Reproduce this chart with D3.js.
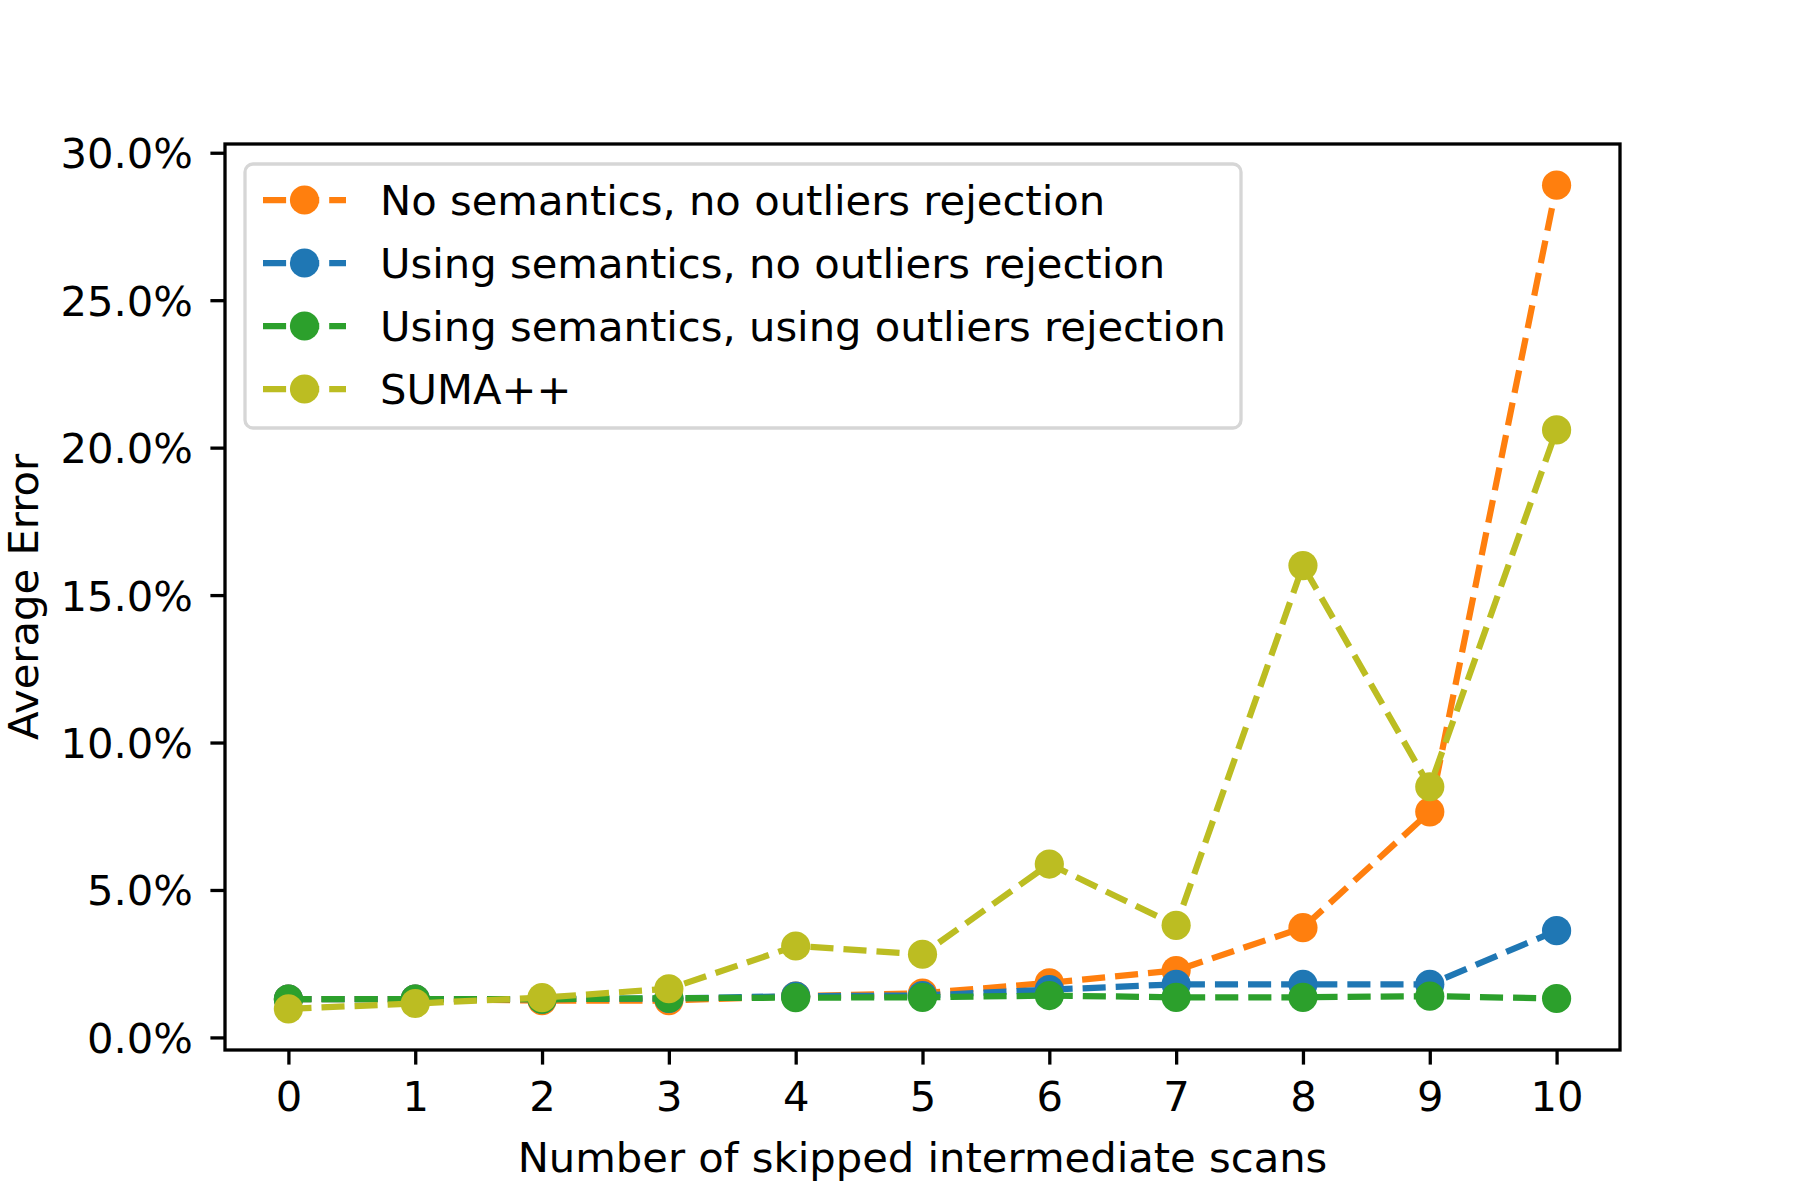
<!DOCTYPE html>
<html>
<head>
<meta charset="utf-8">
<script src="https://cdn.jsdelivr.net/npm/d3@7"></script>
<style>
  html, body { margin: 0; padding: 0; background: #fff; }
  svg text { font-family: "DejaVu Sans", sans-serif; fill: #000; }
</style>
</head>
<body>
<div id="chart"></div>
<script>
// skipped scans on the x axis
const skipped = [0, 1, 2, 3, 4, 5, 6, 7, 8, 9, 10];

// average error, in percent
const noSemNoOutliers = [1.3, 1.3, 1.25, 1.25, 1.4, 1.5, 1.85, 2.27, 3.72, 7.65, 28.9];
const semNoOutliers = [1.3, 1.3, 1.3, 1.32, 1.4, 1.42, 1.62, 1.8, 1.8, 1.8, 3.62];
const semOutliers = [1.3, 1.3, 1.3, 1.33, 1.35, 1.36, 1.42, 1.36, 1.36, 1.4, 1.32];
const sumaPP = [0.97, 1.15, 1.35, 1.65, 3.1, 2.82, 5.88, 3.8, 16.0, 8.5, 20.6];

const seriesNames = [
  "No semantics, no outliers rejection",
  "Using semantics, no outliers rejection",
  "Using semantics, using outliers rejection",
  "SUMA++"
];
const seriesColors = ["#ff7f0e", "#1f77b4", "#2ca02c", "#bcbd22"];
const seriesValues = [noSemNoOutliers, semNoOutliers, semOutliers, sumaPP];

const yTicks = [0, 5, 10, 15, 20, 25, 30];

const W = 1800, H = 1200;
const plot = { left: 225, right: 1620, top: 144, bottom: 1050 };
const fontSize = 41.7;
const lineW = 6.25;
const markerR = 14.6;
const dash = "23.1,10";
const tickLen = 14.6;

const svg = d3.select("#chart")
  .append("svg")
  .attr("width", W)
  .attr("height", H)
  .style("display", "block");

// scales, with matplotlib-like 5% margins
const xScale = d3.scaleLinear()
  .domain([-0.5, 10.5])
  .range([plot.left, plot.right]);

const allVals = seriesValues.flat();
const yMin = d3.min(allVals), yMax = d3.max(allVals);
const yPad = (yMax - yMin) * 0.05;
const yScale = d3.scaleLinear()
  .domain([yMin - yPad, yMax + yPad])
  .range([plot.bottom, plot.top]);

// axes
const xAxis = d3.axisBottom(xScale)
  .tickValues(skipped)
  .tickFormat(d3.format("d"))
  .tickSize(tickLen)
  .tickPadding(tickLen);

const yAxis = d3.axisLeft(yScale)
  .tickValues(yTicks)
  .tickFormat(d => d.toFixed(1) + "%")
  .tickSize(tickLen)
  .tickPadding(tickLen + 3);

const gx = svg.append("g")
  .attr("transform", `translate(0,${plot.bottom})`)
  .call(xAxis);

const gy = svg.append("g")
  .attr("transform", `translate(${plot.left},0)`)
  .call(yAxis);

[gx, gy].forEach(g => {
  g.select(".domain").remove();
  g.selectAll(".tick line").attr("stroke", "#000").attr("stroke-width", 3.3);
  g.selectAll(".tick text")
    .style("font-size", fontSize + "px")
    .style("font-family", "'DejaVu Sans', sans-serif")
    .attr("fill", "#000");
});
gx.selectAll(".tick text").attr("dy", "0.77em");
gy.selectAll(".tick text").attr("dy", "0.36em");

// axis labels
svg.append("text")
  .attr("x", (plot.left + plot.right) / 2)
  .attr("y", 1172)
  .attr("text-anchor", "middle")
  .style("font-size", fontSize + "px")
  .text("Number of skipped intermediate scans");

svg.append("text")
  .attr("transform", `translate(38,${(plot.top + plot.bottom) / 2}) rotate(-90)`)
  .attr("text-anchor", "middle")
  .style("font-size", fontSize + "px")
  .text("Average Error");

// lines and markers, one group per series
const line = d3.line()
  .x((d, i) => xScale(skipped[i]))
  .y(d => yScale(d));

seriesValues.forEach((vals, k) => {
  const g = svg.append("g");
  g.append("path")
    .datum(vals)
    .attr("d", line)
    .attr("fill", "none")
    .attr("stroke", seriesColors[k])
    .attr("stroke-width", lineW)
    .attr("stroke-dasharray", dash)
    .attr("stroke-linejoin", "round");
  g.selectAll("circle")
    .data(vals)
    .enter()
    .append("circle")
    .attr("cx", (d, i) => xScale(skipped[i]))
    .attr("cy", d => yScale(d))
    .attr("r", markerR)
    .attr("fill", seriesColors[k]);
});

// frame
svg.append("rect")
  .attr("x", plot.left)
  .attr("y", plot.top)
  .attr("width", plot.right - plot.left)
  .attr("height", plot.bottom - plot.top)
  .attr("fill", "none")
  .attr("stroke", "#000")
  .attr("stroke-width", 3.3);

// legend
const legend = svg.append("g");
legend.append("rect")
  .attr("x", 245)
  .attr("y", 164)
  .attr("width", 996)
  .attr("height", 264)
  .attr("rx", 8)
  .attr("fill", "#fff")
  .attr("fill-opacity", 0.8)
  .attr("stroke", "#d6d6d6")
  .attr("stroke-width", 3.3);

const rowY = i => 200 + i * 63;
const items = legend.selectAll(".item")
  .data(seriesNames)
  .enter()
  .append("g")
  .attr("class", "item")
  .attr("transform", (d, i) => `translate(0,${rowY(i)})`);

items.append("line")
  .attr("x1", 263)
  .attr("x2", 346)
  .attr("stroke", (d, i) => seriesColors[i])
  .attr("stroke-width", lineW)
  .attr("stroke-dasharray", dash);

items.append("circle")
  .attr("cx", 304.5)
  .attr("r", markerR)
  .attr("fill", (d, i) => seriesColors[i]);

items.append("text")
  .attr("x", 380)
  .attr("y", 15)
  .style("font-size", fontSize + "px")
  .text(d => d);
</script>
</body>
</html>
